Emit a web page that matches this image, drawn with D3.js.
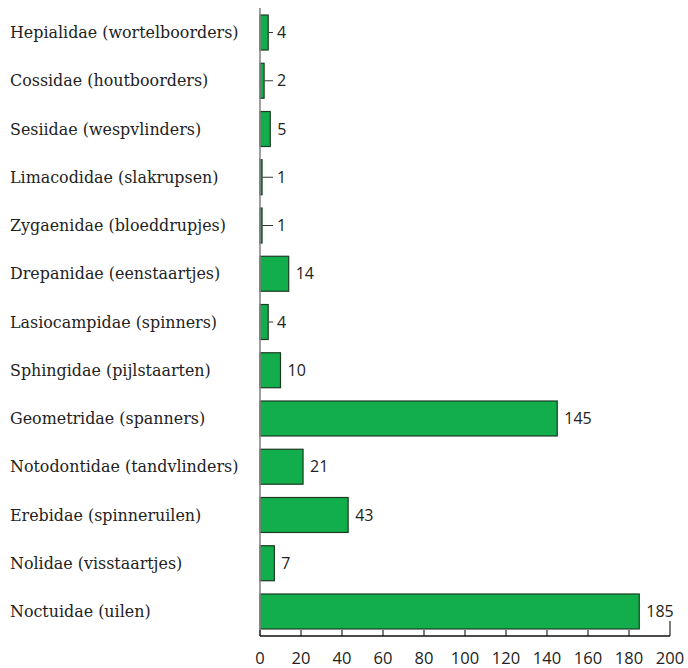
<!DOCTYPE html>
<html><head><meta charset="utf-8">
<script src="https://cdn.jsdelivr.net/npm/d3@7"></script>
<style>body{margin:0;background:#fff}</style>
</head><body>
<svg id="c" width="688" height="668"></svg>
<script>
const categories = [
  "Hepialidae (wortelboorders)",
  "Cossidae (houtboorders)",
  "Sesiidae (wespvlinders)",
  "Limacodidae (slakrupsen)",
  "Zygaenidae (bloeddrupjes)",
  "Drepanidae (eenstaartjes)",
  "Lasiocampidae (spinners)",
  "Sphingidae (pijlstaarten)",
  "Geometridae (spanners)",
  "Notodontidae (tandvlinders)",
  "Erebidae (spinneruilen)",
  "Nolidae (visstaartjes)",
  "Noctuidae (uilen)"
];
const values = [4, 2, 5, 1, 1, 14, 4, 10, 145, 21, 43, 7, 185];
const xTicks = [0, 20, 40, 60, 80, 100, 120, 140, 160, 180, 200];

const svg = d3.select("#c");
const x = d3.scaleLinear().domain([0, 200]).range([260, 670]);
const y = d3.scaleBand().domain(categories).range([8.4, 635.6])
  .paddingInner(0.275).paddingOuter(0.1375);

// category labels
svg.append("g").selectAll("text").data(categories).join("text")
  .attr("x", 10)
  .attr("y", d => y(d) + y.bandwidth() / 2)
  .attr("dy", "0.35em")
  .attr("font-family", "DejaVu Serif")
  .attr("font-size", 15.9)
  .attr("fill", "#222")
  .text(d => d);

// bars
const data = categories.map((c, i) => ({c, v: values[i]}));
svg.append("g").selectAll("rect").data(data).join("rect")
  .attr("x", x(0))
  .attr("y", d => y(d.c))
  .attr("width", d => x(d.v) - x(0))
  .attr("height", y.bandwidth())
  .attr("fill", "#12AE4B")
  .attr("stroke", "#1c3b22")
  .attr("stroke-width", 1.2);

// y axis line
svg.append("line")
  .attr("x1", x(0)).attr("x2", x(0))
  .attr("y1", 8).attr("y2", 636)
  .attr("stroke", "#888").attr("stroke-width", 1.6);

// value labels with leaders
const lab = svg.append("g");
data.forEach(d => {
  const end = x(d.v);
  const lx = Math.max(end + 7, 277);
  const cy = y(d.c) + y.bandwidth() / 2;
  if (lx - end > 8) {
    lab.append("line")
      .attr("x1", end + 0.5).attr("x2", lx - 4)
      .attr("y1", cy).attr("y2", cy)
      .attr("stroke", "#333").attr("stroke-width", 1);
  }
  lab.append("text")
    .attr("x", lx).attr("y", cy).attr("dy", "0.35em")
    .attr("font-family", "Open Sans")
    .attr("font-size", 16)
    .attr("fill", "#222")
    .text(d.v);
});

// x axis
const axisY = 636;
const ax = svg.append("g");
ax.append("line")
  .attr("x1", x(0)).attr("x2", x(200))
  .attr("y1", axisY).attr("y2", axisY)
  .attr("stroke", "#111").attr("stroke-width", 1.3);
ax.selectAll("line.t").data(xTicks).join("line")
  .attr("class", "t")
  .attr("x1", d => x(d)).attr("x2", d => x(d))
  .attr("y1", axisY).attr("y2", d => d === 200 ? axisY - 15 : axisY - 6)
  .attr("stroke", "#111").attr("stroke-width", 1.1);
ax.selectAll("text").data(xTicks).join("text")
  .attr("x", d => x(d)).attr("y", 658).attr("dy", "0.35em")
  .attr("text-anchor", "middle")
  .attr("font-family", "Open Sans")
  .attr("font-size", 16.5)
  .attr("fill", "#222")
  .text(d => d);
</script>
</body></html>
